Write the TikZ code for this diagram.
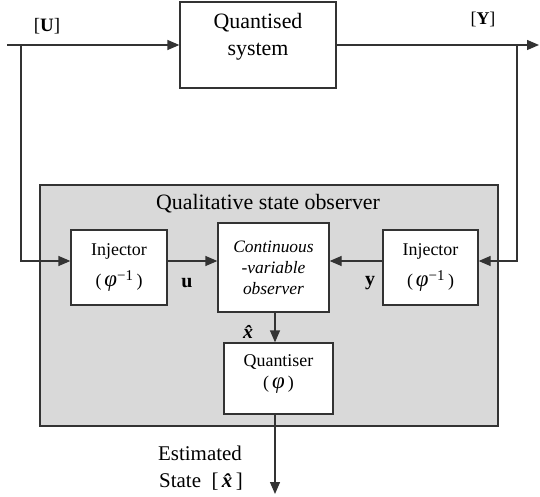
\documentclass[tikz,border=0pt]{standalone}
\usepackage{fontspec}
\setmainfont{Liberation Serif}
\usetikzlibrary{arrows.meta,calc}
\definecolor{linec}{HTML}{333333}
\definecolor{grayfill}{HTML}{D9D9D9}
\newcommand{\phib}{{\fontsize{23}{23}\selectfont\itshape φ}}
\newcommand{\phiinv}{\phib\textsuperscript{\fontsize{15}{15}\selectfont −1}}
\begin{document}
\begin{tikzpicture}[x=1bp,y=-1bp,
  blk/.style={draw=linec, fill=white, line width=1.3bp, inner sep=0pt, align=center},
  conn/.style={draw=linec, line width=1.3bp},
  arr/.style={conn, -{Triangle[length=12bp,width=10bp]}},
  lbl/.style={inner sep=0pt, align=center}]
\useasboundingbox (0,0) rectangle (540,497);
% observer background
\node[draw=linec, fill=grayfill, line width=1.3bp, minimum width=458bp, minimum height=241bp, inner sep=0pt] (obs) at (269,305.5) {};
\node[lbl, font=\fontsize{22}{26}\selectfont] (obstitle) at (268,204) {Qualitative state observer};
% blocks
\node[blk, minimum width=156bp, minimum height=86bp] (sys) at (258,45) {};
\node[lbl, font=\fontsize{22}{27}\selectfont] (systxt) at (258,37) {Quantised\\system};
\node[blk, minimum width=96bp, minimum height=75bp, font=\fontsize{18}{31}\selectfont] (injL) at (119,267.5) {Injector\\(\,\phiinv\,)};
\node[blk, minimum width=111bp, minimum height=89bp, font=\fontsize{17.5}{21}\selectfont\itshape] (cvo) at (273.5,267.5) {Continuous\\-variable\\observer};
\node[blk, minimum width=95bp, minimum height=75bp, font=\fontsize{18}{31}\selectfont] (injR) at (430.5,267.5) {Injector\\(\,\phiinv\,)};
\node[blk, minimum width=109bp, minimum height=71bp] (quant) at (278.5,378.5) {};
\node[lbl, font=\fontsize{18}{23}\selectfont] (quanttxt) at (278.5,374) {Quantiser\\(\,\phib\,)};
% coordinates
\coordinate (uin) at (7,45);
\coordinate (uj) at (21,45);
\coordinate (yout) at (539,45);
\coordinate (yj) at (517,45);
\coordinate (ay) at (0,261);
\coordinate (xv) at (275,0);
\coordinate (eout) at (275,494);
% connectors
\draw[conn] (uin) -- (uj);
\draw[arr] (uj) -- (sys.west);
\draw[arr] (uj) |- (injL.west |- ay);
\draw[arr] (sys.east) -- (yout);
\draw[arr] (yj) |- (injR.east |- ay);
\draw[arr] (injL.east |- ay) -- (cvo.west |- ay);
\draw[arr] (injR.west |- ay) -- (cvo.east |- ay);
\draw[arr] (cvo.south -| xv) -- (quant.north -| xv);
\draw[arr] (quant.south -| xv) -- (eout);
% labels
\node[lbl, font=\fontsize{19}{22}\selectfont] (Ulbl) at (47,26) {[\textbf{U}]};
\node[lbl, font=\fontsize{18}{22}\selectfont] (Ylbl) at (483,19) {[\textbf{Y}]};
\node[lbl, font=\fontsize{20}{22}\selectfont] (ulbl) at (187,283) {\textbf{u}};
\node[lbl, font=\fontsize{20}{22}\selectfont] (ylbl) at (370,283) {\textbf{y}};
\node[lbl, font=\fontsize{20}{22}\selectfont\bfseries\itshape] (xhlbl) at (248,332) {x̂};
\node[lbl, font=\fontsize{21}{25}\selectfont] (est1) at (200,453) {Estimated};
\node[lbl, font=\fontsize{21}{25}\selectfont, anchor=west] (est2) at (159,482) {State\ \ [\,{\bfseries\itshape x̂}\,]};
\end{tikzpicture}
\end{document}
